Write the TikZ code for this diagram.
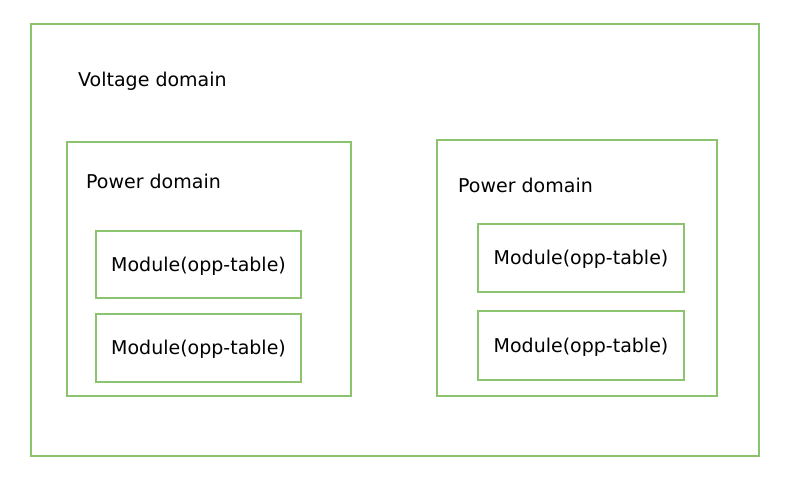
\documentclass[tikz,border=0pt]{standalone}
\usepackage{fontspec}
\setmainfont{DejaVu Sans}
\begin{document}
\begin{tikzpicture}[x=1pt,y=-1pt]
\definecolor{gr}{RGB}{140,195,110}
\tikzset{box/.style={draw=gr, line width=1.2pt},
  lbl/.style={anchor=west,inner sep=0pt,font=\fontsize{19}{22}\selectfont},
  mod/.style={font=\fontsize{19}{22}\selectfont,inner sep=0pt}}
\useasboundingbox (0,0) rectangle (787,486);
\draw[box] (31,24) rectangle (759,456);
\node[lbl] (vd) at (78,81) {Voltage domain};
\draw[box] (67,142) rectangle (351,396);
\node[lbl] (pd1) at (86,181) {Power domain};
\draw[box] (437,140) rectangle (717,396);
\node[lbl] (pd2) at (458,185) {Power domain};
\draw[box] (96,231) rectangle (301,298);
\node[mod] (m1) at (198.5,266) {Module(opp-table)};
\draw[box] (96,314) rectangle (301,382);
\node[mod] (m2) at (198.5,349) {Module(opp-table)};
\draw[box] (478,224) rectangle (684,292);
\node[mod] (m3) at (581,259) {Module(opp-table)};
\draw[box] (478,311) rectangle (684,380);
\node[mod] (m4) at (581,347) {Module(opp-table)};
\end{tikzpicture}
\end{document}
